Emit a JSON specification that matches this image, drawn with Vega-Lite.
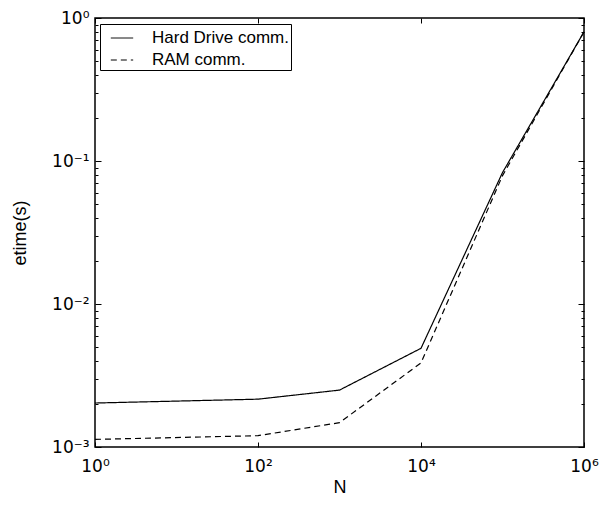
{
  "$schema": "https://vega.github.io/schema/vega-lite/v6.json",
  "width": 489,
  "height": 429,
  "autosize": {"type": "none"},
  "padding": {"left": 95, "top": 18, "right": 15, "bottom": 58},
  "background": "white",
  "config": {
    "font": "Liberation Sans",
    "view": {"stroke": "black", "strokeWidth": 1.5},
    "axis": {
      "domain": false,
      "grid": false,
      "labelColor": "black",
      "titleColor": "black",
      "tickColor": "black",
      "labelFontSize": 17,
      "titleFontSize": 18,
      "titleFontWeight": "normal",
      "labelFont": "DejaVu Sans",
      "titleFont": "Liberation Sans",
      "labelFlush": false,
      "labelOverlap": false,
      "labelBound": false
    },
    "legend": {
      "orient": "none",
      "legendX": 5,
      "legendY": 6,
      "strokeColor": "black",
      "fillColor": "white",
      "padding": 2,
      "symbolOffset": 8,
      "symbolType": "stroke",
      "symbolSize": 500,
      "symbolStrokeColor": "black",
      "symbolStrokeWidth": 1,
      "labelFont": "Liberation Sans",
      "labelFontSize": 17,
      "labelColor": "black",
      "labelOffset": 18,
      "rowPadding": 2
    }
  },
  "data": {
    "values": [
      {"N": 1, "t": 0.00203, "series": "Hard Drive comm."},
      {"N": 100, "t": 0.00216, "series": "Hard Drive comm."},
      {"N": 1000, "t": 0.0025, "series": "Hard Drive comm."},
      {"N": 10000, "t": 0.0049, "series": "Hard Drive comm."},
      {"N": 100000, "t": 0.083, "series": "Hard Drive comm."},
      {"N": 1000000, "t": 0.8, "series": "Hard Drive comm."},
      {"N": 1, "t": 0.00113, "series": "RAM comm."},
      {"N": 100, "t": 0.0012, "series": "RAM comm."},
      {"N": 1000, "t": 0.00148, "series": "RAM comm."},
      {"N": 10000, "t": 0.00387, "series": "RAM comm."},
      {"N": 100000, "t": 0.079, "series": "RAM comm."},
      {"N": 1000000, "t": 0.8, "series": "RAM comm."}
    ]
  },
  "layer": [
    {
      "mark": {"type": "line", "color": "black", "strokeWidth": 1.2},
      "encoding": {
        "x": {
          "field": "N",
          "type": "quantitative",
          "scale": {"type": "log", "domain": [1, 1000000]},
          "axis": {
            "orient": "bottom",
            "values": [1, 100, 10000, 1000000],
            "labelExpr": "datum.value == 1 ? '10⁰' : datum.value == 100 ? '10²' : datum.value == 10000 ? '10⁴' : '10⁶'",
            "tickSize": -5,
            "labelPadding": 16,
            "title": "N",
            "titlePadding": 4
          }
        },
        "y": {
          "field": "t",
          "type": "quantitative",
          "scale": {"type": "log", "domain": [0.001, 1]},
          "axis": {
            "orient": "left",
            "values": [0.001, 0.002, 0.003, 0.004, 0.005, 0.006, 0.007, 0.008, 0.009, 0.01, 0.02, 0.03, 0.04, 0.05, 0.06, 0.07, 0.08, 0.09, 0.1, 0.2, 0.3, 0.4, 0.5, 0.6, 0.7, 0.8, 0.9, 1],
            "labelExpr": "datum.value == 1 ? '10⁰' : datum.value == 0.1 ? '10⁻¹' : datum.value == 0.01 ? '10⁻²' : datum.value == 0.001 ? '10⁻³' : ''",
            "tickSize": {"condition": {"test": "indexof([1, 0.1, 0.01, 0.001], datum.value) >= 0", "value": -6}, "value": -3},
            "labelPadding": 12,
            "title": "etime(s)",
            "titlePadding": 22
          }
        },
        "strokeDash": {
          "field": "series",
          "type": "nominal",
          "scale": {"domain": ["Hard Drive comm.", "RAM comm."], "range": [[1, 0], [6, 4]]},
          "legend": {"title": null}
        }
      }
    },
    {
      "mark": {"type": "line", "strokeOpacity": 0},
      "encoding": {
        "x": {
          "field": "N",
          "type": "quantitative",
          "axis": {
            "orient": "top",
            "values": [1, 100, 10000, 1000000],
            "labels": false,
            "tickSize": -5,
            "title": null
          }
        },
        "y": {
          "field": "t",
          "type": "quantitative",
          "axis": {
            "orient": "right",
            "values": [0.001, 0.002, 0.003, 0.004, 0.005, 0.006, 0.007, 0.008, 0.009, 0.01, 0.02, 0.03, 0.04, 0.05, 0.06, 0.07, 0.08, 0.09, 0.1, 0.2, 0.3, 0.4, 0.5, 0.6, 0.7, 0.8, 0.9, 1],
            "labels": false,
            "tickSize": {"condition": {"test": "indexof([1, 0.1, 0.01, 0.001], datum.value) >= 0", "value": -6}, "value": -3},
            "title": null
          }
        },
        "detail": {"field": "series", "type": "nominal"}
      }
    }
  ],
  "resolve": {"axis": {"x": "independent", "y": "independent"}}
}
